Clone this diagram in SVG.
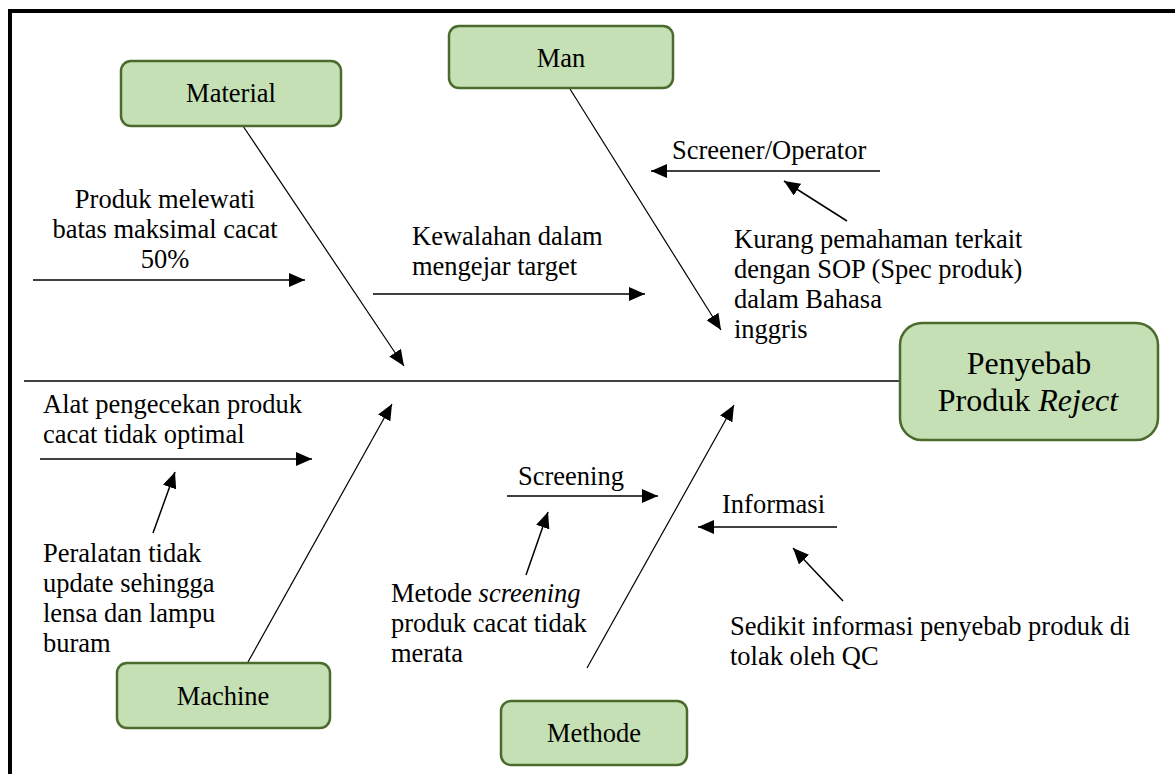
<svg xmlns="http://www.w3.org/2000/svg" width="1175" height="774" viewBox="0 0 1175 774" font-family="'Liberation Serif', 'DejaVu Serif', serif">
  <style>
    text { font-family: 'Liberation Serif', 'DejaVu Serif', serif; font-size: 26.5px; fill: #000; }
    .lbl { text-anchor: middle; }
    .big { font-size: 32px; }
    .box { fill: #c5e0b4; stroke: #4b6b2d; stroke-width: 2.5; }
    .bone { stroke: #000; stroke-width: 1.3; fill: none; }
    .arr { stroke: #000; stroke-width: 1.5; fill: none; marker-end: url(#head); }
    .bonearr { stroke: #000; stroke-width: 1.2; fill: none; marker-end: url(#head); }
  </style>
  <defs>
    <marker id="head" markerUnits="userSpaceOnUse" markerWidth="16" markerHeight="14" refX="16" refY="7" orient="auto">
      <path d="M0,0 L16,7 L0,14 z" fill="#000"/>
    </marker>
  </defs>

  <rect width="1175" height="774" fill="#fff"/>
  <!-- frame (top and left edges) -->
  <path d="M10,774 V11 H1175" fill="none" stroke="#000" stroke-width="4"/>

  <g id="connectors">
    <!-- spine -->
    <line class="bone" x1="24" y1="381" x2="900" y2="381"/>
    <!-- main bones -->
    <line class="bonearr" x1="243" y1="126" x2="404" y2="366"/>
    <line class="bonearr" x1="570" y1="89" x2="721" y2="330"/>
    <line class="bonearr" x1="248" y1="662" x2="392" y2="404"/>
    <line class="bonearr" x1="587" y1="668" x2="734" y2="405"/>
    <!-- cause arrows -->
    <line class="arr" x1="33" y1="280" x2="305" y2="280"/>
    <line class="arr" x1="373" y1="294" x2="645" y2="294"/>
    <line class="arr" x1="880" y1="171" x2="651" y2="171"/>
    <line class="arr" x1="847" y1="221" x2="784" y2="181"/>
    <line class="arr" x1="40" y1="459" x2="312" y2="459"/>
    <line class="arr" x1="153" y1="533" x2="175" y2="472"/>
    <line class="arr" x1="507" y1="496" x2="658" y2="496"/>
    <line class="arr" x1="526" y1="575" x2="548" y2="512"/>
    <line class="arr" x1="837" y1="527" x2="698" y2="527"/>
    <line class="arr" x1="843" y1="601" x2="793" y2="548"/>
  </g>

  <g id="material">
    <rect class="box" x="121" y="61" width="220" height="65" rx="10"/>
    <text class="lbl" x="231" y="102">Material</text>
  </g>
  <g id="man">
    <rect class="box" x="449" y="26" width="224" height="62" rx="10"/>
    <text class="lbl" x="561" y="67">Man</text>
  </g>
  <g id="machine">
    <rect class="box" x="117" y="663" width="213" height="65" rx="10"/>
    <text class="lbl" x="223" y="705">Machine</text>
  </g>
  <g id="methode">
    <rect class="box" x="501" y="701" width="186" height="64" rx="10"/>
    <text class="lbl" x="594" y="742">Methode</text>
  </g>
  <g id="effect">
    <rect class="box" x="900" y="323" width="258" height="117" rx="22"/>
    <text class="lbl big" x="1029" y="374">Penyebab</text>
    <text class="lbl big" x="1028" y="411">Produk <tspan font-style="italic">Reject</tspan></text>
  </g>

  <g id="cause-material">
    <text class="lbl" x="165" y="208">Produk melewati</text>
    <text class="lbl" x="165" y="238">batas maksimal cacat</text>
    <text class="lbl" x="165" y="268">50%</text>
  </g>
  <g id="cause-man-target">
    <text x="412" y="245">Kewalahan dalam</text>
    <text x="412" y="275">mengejar target</text>
  </g>
  <g id="cause-man-operator">
    <text x="672" y="159">Screener/Operator</text>
  </g>
  <g id="subcause-man">
    <text x="734" y="248">Kurang pemahaman terkait</text>
    <text x="734" y="278">dengan SOP (Spec produk)</text>
    <text x="734" y="308">dalam Bahasa</text>
    <text x="734" y="338">inggris</text>
  </g>
  <g id="cause-machine">
    <text x="43" y="413">Alat pengecekan produk</text>
    <text x="43" y="443">cacat tidak optimal</text>
  </g>
  <g id="subcause-machine">
    <text x="43" y="562">Peralatan tidak</text>
    <text x="43" y="592">update sehingga</text>
    <text x="43" y="622">lensa dan lampu</text>
    <text x="43" y="652">buram</text>
  </g>
  <g id="cause-methode-screening">
    <text x="518" y="485">Screening</text>
  </g>
  <g id="subcause-methode-screening">
    <text x="391" y="602">Metode <tspan font-style="italic">screening</tspan></text>
    <text x="391" y="632">produk cacat tidak</text>
    <text x="391" y="662">merata</text>
  </g>
  <g id="cause-methode-info">
    <text x="722" y="513">Informasi</text>
  </g>
  <g id="subcause-methode-info">
    <text x="730" y="635">Sedikit informasi penyebab produk di</text>
    <text x="730" y="665">tolak oleh QC</text>
  </g>
</svg>
